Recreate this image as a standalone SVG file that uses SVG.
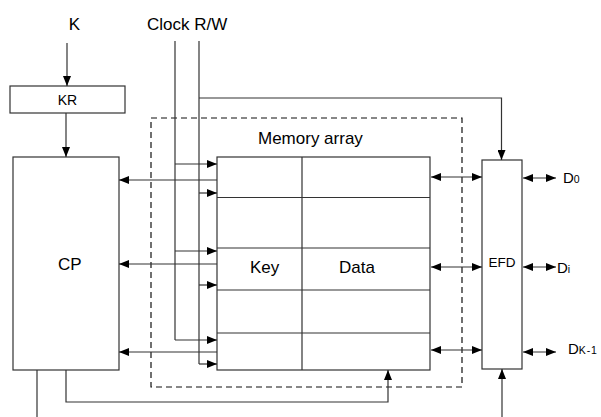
<svg xmlns="http://www.w3.org/2000/svg" width="601" height="417" viewBox="0 0 601 417">
<style>
.box{fill:#fff;stroke:#333;stroke-width:1.2}
.ln{fill:none;stroke:#333;stroke-width:1.2}
.dash{fill:none;stroke:#111;stroke-width:1.2;stroke-dasharray:6 4}
.t{font-family:"Liberation Sans",Arial,sans-serif;font-size:17px;fill:#000}
.s{font-family:"Liberation Sans",Arial,sans-serif;font-size:13.5px;fill:#000}
.d{font-family:"Liberation Sans",Arial,sans-serif;font-size:15px;fill:#000}
.sub{font-size:10.5px}
.a{marker-end:url(#ah)}
.aa{marker-end:url(#ah);marker-start:url(#ah)}
</style>
<defs>
<marker id="ah" markerUnits="userSpaceOnUse" markerWidth="10" markerHeight="8" refX="10" refY="4" orient="auto-start-reverse">
<path d="M0,0 L10,4 L0,8 z" fill="#000"/>
</marker>
</defs>
<rect width="601" height="417" fill="#fff"/>
<g id="memory-array-frame">
<rect class="dash" x="151" y="118" width="311" height="269"/>
<text class="t" x="258" y="144">Memory array</text>
</g>
<g id="labels">
<text class="t" x="74.5" y="30" text-anchor="middle">K</text>
<text class="t" x="147" y="30">Clock R/W</text>
</g>
<g id="KR">
<rect class="box" x="10" y="86" width="115" height="27"/>
<text class="s" x="67.5" y="105" text-anchor="middle" style="font-size:14px">KR</text>
</g>
<g id="CP">
<rect class="box" x="13" y="157" width="106" height="213"/>
<text class="t" x="58" y="270">CP</text>
</g>
<g id="memory">
<rect class="box" x="217" y="157" width="213" height="213"/>
<path class="ln" d="M302,157 V370 M217,197.5 H430 M217,248 H430 M217,290 H430 M217,333 H430"/>
<text class="t" x="250" y="273">Key</text>
<text class="t" x="339" y="273">Data</text>
</g>
<g id="EFD">
<rect class="box" x="482" y="160" width="40" height="209"/>
<text class="s" x="502" y="267" text-anchor="middle">EFD</text>
</g>
<g id="outputs">
<text class="d" x="563" y="183">D<tspan class="sub">0</tspan></text>
<text class="d" x="557" y="273">D<tspan class="sub">i</tspan></text>
<text class="d" x="568" y="354">D<tspan class="sub" style="letter-spacing:0.8px">K-1</tspan></text>
</g>
<g id="connectors">
<line class="ln a" x1="67" y1="43" x2="67" y2="86"/>
<line class="ln a" x1="66" y1="113" x2="66" y2="157"/>
<path class="ln" d="M175,41 V340"/>
<path class="ln" d="M199,41 V364"/>
<line class="ln a" x1="175" y1="164" x2="217" y2="164"/>
<line class="ln a" x1="175" y1="251" x2="217" y2="251"/>
<line class="ln a" x1="175" y1="340" x2="217" y2="340"/>
<line class="ln a" x1="199" y1="193" x2="217" y2="193"/>
<line class="ln a" x1="199" y1="285" x2="217" y2="285"/>
<line class="ln a" x1="199" y1="364" x2="217" y2="364"/>
<path class="ln a" d="M199,98 H501.5 V160"/>
<line class="ln a" x1="217" y1="180" x2="119" y2="180"/>
<line class="ln a" x1="217" y1="264" x2="119" y2="264"/>
<line class="ln a" x1="217" y1="352" x2="119" y2="352"/>
<line class="ln aa" x1="431" y1="177" x2="482" y2="177"/>
<line class="ln aa" x1="431" y1="267" x2="482" y2="267"/>
<line class="ln aa" x1="431" y1="350" x2="482" y2="350"/>
<line class="ln aa" x1="523" y1="178" x2="556" y2="178"/>
<line class="ln aa" x1="523" y1="267" x2="556" y2="267"/>
<line class="ln aa" x1="523" y1="352" x2="556" y2="352"/>
<path class="ln" d="M37,370 V417"/>
<path class="ln a" d="M66,370 V402 H388 V370"/>
<line class="ln a" x1="502" y1="417" x2="502" y2="369"/>
</g>
</svg>
